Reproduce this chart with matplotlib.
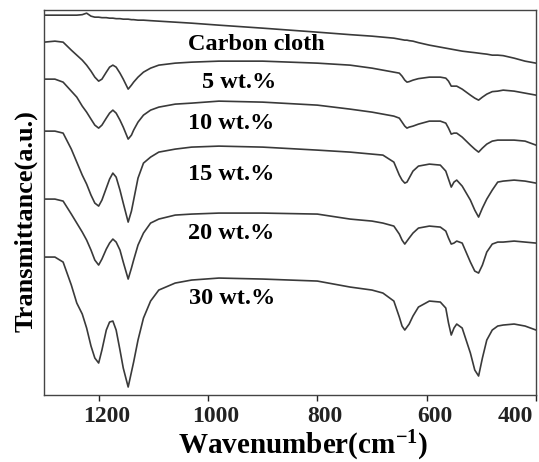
import numpy as np
import matplotlib
matplotlib.use("Agg")
import matplotlib.pyplot as plt
from matplotlib.transforms import ScaledTranslation

plt.rcParams['font.family'] = ['Liberation Serif', 'DejaVu Serif']
plt.rcParams['font.weight'] = 'bold'
plt.rcParams['mathtext.fontset'] = 'custom'
plt.rcParams['mathtext.rm'] = 'Liberation Serif:bold'
plt.rcParams['mathtext.default'] = 'rm'

# wavenumber grid (cm-1)
wavenumber = [1300, 1280, 1265, 1250, 1240, 1230, 1222, 1214, 1207, 1200, 1194, 1186, 1180, 1174,
              1168, 1161, 1155, 1146, 1140, 1136, 1128, 1118, 1105, 1090,
              1060, 1030, 980, 900, 800, 740, 700, 680,
              660, 650, 645, 640, 636, 632, 625, 615, 595, 575, 565, 560, 555, 550, 545, 535,
              520, 512, 505, 498, 490, 480, 470, 460, 440, 420, 400]

# transmittance (a.u., curves already stacked)
carbon_cloth = [380, 380, 380, 380, 380, 380.5, 382, 379, 378, 378, 377.5, 377.5, 377, 377,
                376.5, 376.5, 376, 376, 375.5, 375.5, 375, 375, 374.5, 374,
                373, 372, 370, 367, 363, 360.5, 359, 358,
                357, 356, 355.5, 355, 355, 354.5, 354, 352.5, 350, 348, 347, 346.5, 346, 345.5,
                345, 344, 343, 342.5, 342, 341.5, 341, 340, 340, 339.5, 337, 334, 332]
wt5 = [353, 354, 353, 345, 340, 335, 330, 324, 318, 314, 316, 323, 328, 330,
       328, 322, 316, 306, 310, 313, 318, 323, 327, 330,
       332, 333, 334, 334, 332, 330, 327, 325,
       323, 322, 319, 315, 313, 313.5, 315, 316.5, 318, 318, 317, 314, 309, 309,
       309, 306, 300, 297, 295, 298, 301, 303.5, 304, 305, 304, 302, 300]
wt10 = [316, 316, 313, 304, 298, 289, 283, 276, 270, 267, 270, 277, 282, 285,
        282, 275, 268, 256, 260, 265, 273, 280, 285, 288,
        291, 292, 294, 293, 290, 286, 283, 281,
        279, 277, 273, 269, 267, 268, 269, 271, 274, 274, 272, 267, 261, 262,
        262, 258, 250, 246, 243, 247, 251, 254, 255, 255, 255, 254, 250]
wt15 = [264, 264, 262, 246, 233, 220, 211, 200, 192, 189, 195, 207, 216, 222,
        218, 205, 192, 173, 184, 195, 217, 232, 238, 243,
        246, 248, 249, 248, 245, 243, 241, 240,
        233, 220, 215, 212, 213, 217, 224, 229, 231, 230, 224, 216, 208, 213,
        215, 209, 195, 185, 178, 187, 196, 205, 213, 214, 215, 214, 212]
wt20 = [196, 196, 194, 181, 172, 163, 155, 145, 135, 130, 136, 146, 152, 156,
        153, 145, 133, 116, 127, 135, 150, 162, 172, 176,
        180, 181, 182, 182, 181, 176, 174, 172,
        169, 161, 155, 151, 154, 157, 162, 167, 169, 168, 164, 157, 151, 152,
        154, 152, 133, 124, 122, 130, 143, 151, 153, 153, 154, 153, 152]
wt30 = [138, 138, 133, 110, 92, 81, 67, 49, 37, 32, 45, 65, 73, 74,
        65, 45, 27, 8, 23, 33, 55, 77, 94, 105,
        112, 115, 117, 116, 114, 108, 105, 102,
        94, 78, 69, 65, 68, 71, 79, 88, 94, 93, 87, 72, 60, 67,
        71, 67, 42, 25, 19, 37, 55, 65, 69, 70, 71, 69, 65]

series = [carbon_cloth, wt5, wt10, wt15, wt20, wt30]
labels = ['Carbon cloth', '5 wt.%', '10 wt.%', '15 wt.%', '20 wt.%', '30 wt.%']
label_x = [1037, 1011, 1037, 1037, 1037, 1035]
label_y = [345, 307, 266, 215, 156, 91]
xticks = [1200, 1000, 800, 600, 400]

fig = plt.figure(figsize=(5.39, 4.62), dpi=100)
ax = fig.add_axes([0.0816, 0.145, 0.9128, 0.833])

for ys in series:
    ax.plot(wavenumber, ys, color='#3a3a3a', lw=1.2, solid_joinstyle='round')

for t, lx, ly in zip(labels, label_x, label_y):
    ax.text(lx, ly, t, fontsize=17.5, fontweight='bold', ha='left', va='baseline')

ax.set_xlim(1300, 400)
ax.set_ylim(0, 385)
ax.set_xticks(xticks)
ax.set_yticks([])
ax.tick_params(axis='x', direction='out', length=4, width=1, pad=4, labelsize=17, colors='#222222')
for s in ax.spines.values():
    s.set_color('#444444')
    s.set_linewidth(1.0)

# tick labels sit a bit right of their ticks, the last one kept inside the frame
ticklabels = ax.get_xticklabels()
for lab in ticklabels[:-1]:
    lab.set_transform(lab.get_transform() + ScaledTranslation(0.08, 0, fig.dpi_scale_trans))
ticklabels[-1].set_ha('right')
ticklabels[-1].set_transform(ticklabels[-1].get_transform() + ScaledTranslation(-0.03, 0, fig.dpi_scale_trans))

ax.set_xlabel('Wavenumber(cm$^{-1}$)', fontsize=21, fontweight='bold')
ax.xaxis.set_label_coords(0.526, -0.087)
ax.set_ylabel('Transmittance(a.u.)', fontsize=19, fontweight='bold')
ax.yaxis.set_label_coords(-0.014, 0.452)

fig.savefig('out.png', dpi=100)
